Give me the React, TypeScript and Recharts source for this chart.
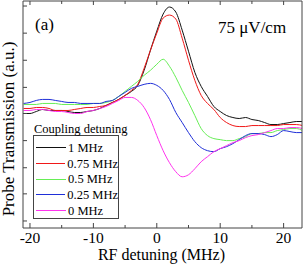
import React from 'react';
import { LineChart, Line, XAxis, YAxis, Legend } from 'recharts';

// RF detuning (MHz)
const detuning = [-21, -20, -19, -18, -17, -16, -15, -14, -13, -12, -11, -10, -9, -8, -7, -6, -5, -4, -3, -2, -1, 0, 1, 2, 3, 4, 5, 6, 7, 8, 9, 10, 11, 12, 13, 14, 15, 16, 17, 18, 19, 20, 21, 22, 23];

// Probe transmission (a.u.) for each coupling detuning
const coupling1MHz = [114, 114, 116, 118, 117, 117, 117, 116, 115, 115, 116, 117, 119, 122, 125, 128, 132, 136, 142, 157, 177, 196, 213, 220, 215, 197, 176, 155, 141, 131, 121, 116, 112, 110, 109, 110, 108, 107, 105, 103, 103, 104, 105, 106, 106];
const coupling075MHz = [119, 119, 120, 120, 119, 117, 117, 117, 118, 119, 120, 120, 121, 122, 125, 128, 132, 137, 143, 159, 177, 194, 209, 212, 208, 189, 167, 147, 132, 124, 118, 110, 105, 102, 101, 101, 102, 102, 102, 102, 102, 103, 103, 103, 102];
const coupling05MHz = [123, 123, 123, 124, 124, 124, 123, 123, 123, 123, 123, 124, 124, 125, 127, 131, 136, 141, 146, 152, 157, 163, 168, 161, 150, 137, 125, 112, 99, 92, 89, 88, 87, 87, 89, 91, 94, 94, 95, 95, 97, 98, 99, 99, 97];
const coupling025MHz = [124, 125, 127, 128, 128, 127, 126, 125, 125, 124, 124, 124, 124, 126, 127, 131, 135, 139, 141, 143, 144, 142, 137, 128, 115, 105, 95, 86, 80, 77, 76, 79, 81, 84, 88, 92, 94, 94, 93, 91, 93, 97, 96, 95, 95];
const coupling0MHz = [117, 117, 118, 118, 117, 116, 116, 115, 114, 114, 116, 117, 119, 121, 124, 127, 130, 130, 127, 120, 108, 92, 77, 65, 56, 51, 53, 59, 66, 71, 76, 79, 82, 85, 87, 90, 92, 93, 95, 97, 99, 99, 100, 100, 99];

const seriesNames = ['1 MHz', '0.75 MHz', '0.5 MHz', '0.25 MHz', '0 MHz'];
const seriesValues = [coupling1MHz, coupling075MHz, coupling05MHz, coupling025MHz, coupling0MHz];
const seriesColors = ['#111111', '#f01818', '#66ee55', '#1f2fd8', '#ff33ee'];

const xTicks = [-20, -15, -10, -5, 0, 5, 10, 15, 20];
const yTicks = [7, 34, 60, 87, 114, 140, 167, 194, 221];

const data = detuning.map((d, i) => {
  const row: Record<string, number> = { d };
  seriesNames.forEach((n, k) => {
    row[n] = seriesValues[k][i];
  });
  return row;
});

const FONT = '"Liberation Serif", "Times New Roman", serif';
const AXIS = '#444';

const BottomTick = (props: any) => {
  const { x, y, payload } = props;
  const v = payload.value as number;
  const major = v % 10 === 0;
  return (
    <g>
      <line x1={x} x2={x} y1={y} y2={y - (major ? 5 : 3)} stroke={AXIS} />
      {major && (
        <text x={x} y={y + 14.5} textAnchor="middle" fontSize={15.5} fontFamily={FONT} fill="#000">
          {v}
        </text>
      )}
    </g>
  );
};

const TopTick = (props: any) => {
  const { x, y, payload } = props;
  const major = (payload.value as number) % 10 === 0;
  return <line x1={x} x2={x} y1={y} y2={y + (major ? 4 : 3)} stroke={AXIS} />;
};

const LeftTick = (props: any) => {
  const { x, y } = props;
  return <line x1={x} x2={x + 4} y1={y} y2={y} stroke={AXIS} />;
};

const LegendContent = () => {
  return (
    <div style={{ fontFamily: FONT, fontSize: 12.5, color: '#000' }}>
      <div style={{ height: 12, lineHeight: '13px', whiteSpace: 'nowrap', marginLeft: 1 }}>Coupling detuning</div>
      <div
        style={{
          border: `1px solid ${AXIS}`,
          width: 86,
          height: 84,
          paddingTop: 4,
          boxSizing: 'border-box',
        }}
      >
        {seriesNames.map((n, k) => (
          <div key={n} style={{ display: 'flex', alignItems: 'center', height: 15.7, whiteSpace: 'nowrap' }}>
            <div style={{ width: 30, marginLeft: 2, borderTop: `1px solid ${seriesColors[k]}` }} />
            <span style={{ marginLeft: 2, lineHeight: '14px' }}>{n}</span>
          </div>
        ))}
      </div>
    </div>
  );
};

export default function App() {
  return (
    <div style={{ position: 'absolute', left: 0, top: 0, width: 305, height: 265, overflow: 'hidden', background: '#fff' }}>
      <LineChart width={305} height={265} data={data} margin={{ top: 0, right: 0, bottom: 7, left: 0 }}>
        <XAxis
          dataKey="d"
          type="number"
          domain={[-21.1, 22.9]}
          allowDataOverflow
          ticks={xTicks}
          interval={0}
          height={30}
          tickSize={0}
          tickMargin={0}
          tickLine={false}
          axisLine={{ stroke: AXIS }}
          tick={<BottomTick />}
        />
        <XAxis
          xAxisId="top"
          orientation="top"
          dataKey="d"
          type="number"
          domain={[-21.1, 22.9]}
          allowDataOverflow
          ticks={xTicks}
          interval={0}
          height={1}
          tickSize={0}
          tickMargin={0}
          tickLine={false}
          axisLine={{ stroke: AXIS }}
          tick={<TopTick />}
        />
        <YAxis
          type="number"
          domain={[0, 226]}
          allowDataOverflow
          ticks={yTicks}
          interval={0}
          width={23}
          tickSize={0}
          tickMargin={0}
          tickLine={false}
          axisLine={{ stroke: AXIS }}
          tick={<LeftTick />}
        />
        <YAxis
          yAxisId="r"
          orientation="right"
          type="number"
          domain={[0, 226]}
          width={3}
          tick={false}
          tickLine={false}
          axisLine={{ stroke: AXIS }}
        />
        {seriesNames.map((n, k) => (
          <Line
            key={n}
            dataKey={n}
            name={n}
            type="monotone"
            stroke={seriesColors[k]}
            strokeWidth={1}
            dot={false}
            activeDot={false}
            isAnimationActive={false}
          />
        ))}
        <Legend
          layout="vertical"
          align="center"
          verticalAlign="middle"
          wrapperStyle={{ left: 33, top: 123, width: 'auto', height: 'auto' }}
          content={<LegendContent />}
        />
        <text x={35} y={30} fontSize={17} fontFamily={FONT} fill="#000">(a)</text>
        <text x={218} y={33} fontSize={17} fontFamily={FONT} fill="#000">75 μV/cm</text>
        <text x={161.5} y={259.5} textAnchor="middle" fontSize={16} fontFamily={FONT} fill="#000">RF detuning (MHz)</text>
        <text
          x={14}
          y={129}
          textAnchor="middle"
          fontSize={17}
          fontFamily={FONT}
          fill="#000"
          transform="rotate(-90 14 129)"
        >
          Probe Transmission (a.u.)
        </text>
      </LineChart>
    </div>
  );
}
